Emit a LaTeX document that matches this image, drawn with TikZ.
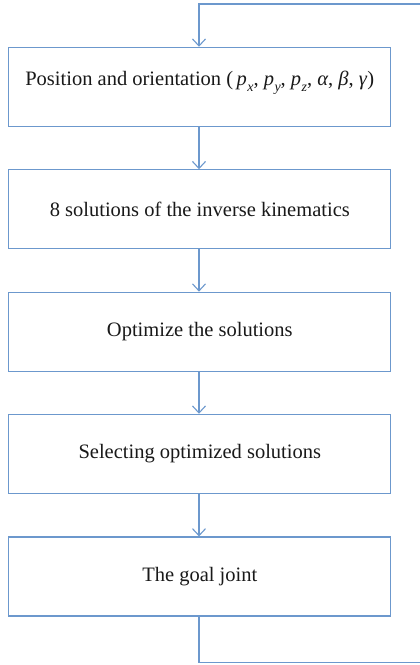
\documentclass[tikz,border=0pt]{standalone}
\usepackage{fontspec}
\setmainfont{Liberation Serif}
\usetikzlibrary{arrows.meta}
\definecolor{lineblue}{RGB}{108,152,205}
\newcommand{\vsub}[2]{\textit{#1}\kern0.5pt\raisebox{-0.25em}{\fontsize{14}{14}\selectfont\textit{#2}}}
\begin{document}
\begin{tikzpicture}[x=1pt,y=-1pt,
  flowbox/.style={draw=lineblue,line width=1.1pt,minimum width=382pt,minimum height=79pt,inner sep=0pt,font=\fontsize{20.5}{24}\selectfont,text=black!90},
  flowarrow/.style={draw=lineblue,line width=1.1pt,-{Straight Barb[length=7pt,width=13pt,line width=1.1pt]}},
  loopline/.style={draw=lineblue,line width=1.1pt}]
\useasboundingbox (0,0) rectangle (420,665);
\node[flowbox] (b1) at (199.8,86.8) {\raisebox{4pt}[\height][\depth]{Position and orientation (\,\vsub{p}{x}, \vsub{p}{y}, \vsub{p}{z}, \textit{α}, \textit{β}, \textit{γ})}};
\node[flowbox] (b2) at (199.8,209.3) {8 solutions of the inverse kinematics};
\node[flowbox] (b3) at (199.8,331.7) {Optimize the solutions};
\node[flowbox] (b4) at (199.8,453.8) {Selecting optimized solutions};
\node[flowbox] (b5) at (199.8,576.5) {The goal joint};
\coordinate (tr) at (421,4);
\coordinate (br) at (421,662.7);
\draw[flowarrow] (b1.south -| 199,0) -- (b2.north -| 199,0);
\draw[flowarrow] (b2.south -| 199,0) -- (b3.north -| 199,0);
\draw[flowarrow] (b3.south -| 199,0) -- (b4.north -| 199,0);
\draw[flowarrow] (b4.south -| 199,0) -- (b5.north -| 199,0);
\draw[loopline] (b5.south -| 199,0) |- (br);
\draw[flowarrow] (tr) -| (b1.north -| 199,0);
\end{tikzpicture}
\end{document}
